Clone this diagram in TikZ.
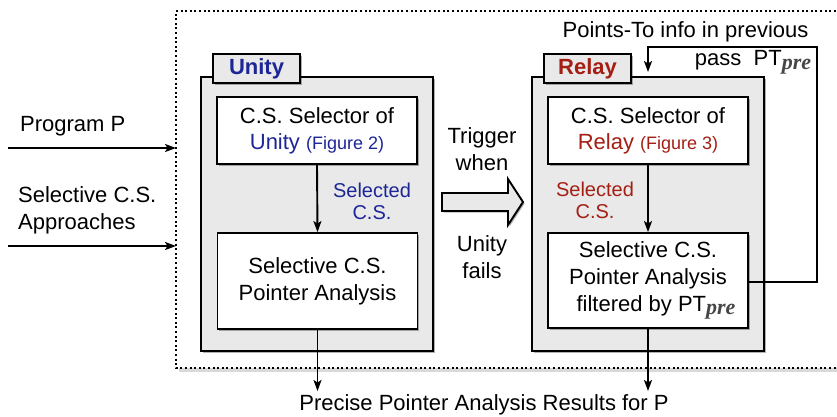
\documentclass[tikz,border=0pt]{standalone}
\usepackage{fontspec}
\setmainfont{Liberation Sans}
\newfontfamily\timesf{Liberation Serif}
\usetikzlibrary{arrows.meta,shadows,positioning}
\definecolor{ublue}{RGB}{28,38,150}
\definecolor{rred}{RGB}{165,30,20}
\definecolor{boxgray}{RGB}{233,233,233}
\definecolor{pregray}{RGB}{70,70,70}
\newcommand{\ptpre}{PT\raisebox{-0.32ex}{{\timesf\bfseries\itshape\color{pregray}pre}}}
\tikzset{
  mytext/.style={font=\fontsize{22}{27}\selectfont, align=center, inner sep=0pt},
  shad/.style={drop shadow={shadow xshift=1.6pt, shadow yshift=-1.6pt, opacity=0.3, fill=black}},
  graybox/.style={draw=black, line width=1.9pt, fill=boxgray, shad, minimum width=232pt, minimum height=274pt, inner sep=0pt},
  tabbox/.style={draw=black, line width=1.9pt, fill=boxgray, shad, minimum width=87pt, minimum height=29pt, inner sep=0pt, font=\fontsize{22}{26}\selectfont\bfseries},
  whitebox/.style={draw=black, line width=1.9pt, fill=white, shad, minimum width=200pt, inner sep=0pt, align=center, font=\fontsize{22}{27}\selectfont},
  conn/.style={line width=1.9pt, -{Stealth[length=11pt,width=8pt,inset=2.5pt]}},
  sel/.style={font=\fontsize{20}{22}\selectfont, align=center, inner sep=0pt},
  fig/.style={font=\fontsize{18}{20}\selectfont}
}
\begin{document}
\begin{tikzpicture}[x=1pt,y=-1pt]
\useasboundingbox (0,0) rectangle (837,416);
% outer dotted frame
\fill[black!15] (179,14) rectangle (845,372);
\fill[white] (176,11) rectangle (845,368);
\draw[line width=1.5pt, dash pattern=on 2pt off 2.6pt] (845,11) -- (176,11) -- (176,368) -- (845,368);
\coordinate (frameW1) at (176,148);
\coordinate (frameW2) at (176,246);

% Unity
\node[graybox] (U) at (317,214) {};
\node[tabbox, text=ublue] (Utab) at (256.5,68.5) {Unity};
\node[whitebox, minimum height=67pt] (U1) at (317,130.5) {C.S. Selector of\\[-1pt]\color{ublue}Unity {\fontsize{18}{20}\selectfont (Figure 2)}};
\node[whitebox, minimum height=96pt] (U2) at (317.5,281) {Selective C.S.\\Pointer Analysis};
\draw[conn] (U1.south) -- (U2.north);
\node[sel, text=ublue] (Usel) at (372,201) {Selected\\C.S.};

% Relay
\node[graybox] (R) at (648,214) {};
\node[tabbox, text=rred] (Rtab) at (587.5,68.5) {Relay};
\node[whitebox, minimum height=67pt] (R1) at (648,130.5) {C.S. Selector of\\[-1pt]\color{rred}Relay {\fontsize{18}{20}\selectfont (Figure 3)}};
\node[whitebox, minimum height=95pt] (R2) at (648,280.5) {Selective C.S.\\Pointer Analysis\\\hspace*{16pt}filtered by \ptpre};
\draw[conn] (R1.south) -- (R2.north);
\node[sel, text=rred] (Rsel) at (595,200) {Selected\\C.S.};

% feedback
\coordinate (fb1) at (817,282);
\coordinate (fb2) at (817,47);
\coordinate (fb3) at (648,47);
\coordinate (fbend) at (648,72);
\draw[conn] (R2.east |- fb1) -- (fb1) -- (fb2) -- (fb3) -- (fbend);
\node[mytext] (pt1) at (685.5,32) {Points-To info in previous};
\node[mytext] (pt2) at (753,62) {pass\ \ \ptpre};

% trigger block arrow
\coordinate (ba0) at (442,193);
\draw[line width=1.9pt, fill=boxgray, line join=miter, shad] (ba0) -- (508,193) -- (508,179) -- (523,202) -- (508,225) -- (508,211) -- (442,211) -- cycle;
\node[mytext] (trig) at (482,149) {Trigger\\when};
\node[mytext] (fails) at (482,257) {Unity\\fails};

% inputs
\node[mytext, anchor=west] (prog) at (20,126) {Program P};
\node[mytext, anchor=west, align=left] (selin) at (18,210) {Selective C.S.\\Approaches};
\coordinate (in1) at (8,148);
\coordinate (in2) at (8,246);
\draw[conn] (in1) -- (frameW1);
\draw[conn] (in2) -- (frameW2);

% output
\node[mytext] (res) at (484,405) {Precise Pointer Analysis Results for P};
\draw[conn] (U2.south) -- (U2.south |- 0,391);
\draw[conn] (R2.south) -- (R2.south |- 0,391);
\end{tikzpicture}
\end{document}
